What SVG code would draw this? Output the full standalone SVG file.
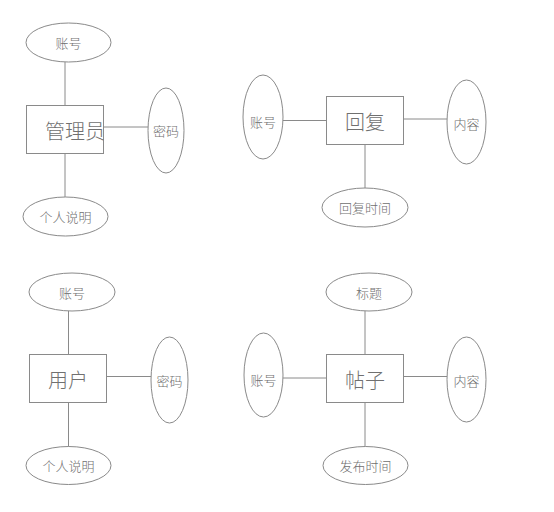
<svg xmlns="http://www.w3.org/2000/svg" width="554" height="512" viewBox="0 0 554 512">
<style>
.s{fill:#ffffff;stroke:#8a8a8a;stroke-width:1}
.c line{stroke:#8a8a8a;stroke-width:1}
.t{font-family:"Noto Sans CJK SC","Noto Sans",sans-serif;font-weight:300;fill:#707070;text-anchor:middle;dominant-baseline:central}
.a{font-size:13px}
.e{font-size:20px}
</style>
<rect width="554" height="512" fill="#ffffff"/>
<g class="c" id="connectors">
<line x1="65" y1="62" x2="65" y2="105"/>
<line x1="104" y1="127" x2="148" y2="127"/>
<line x1="65" y1="153" x2="65" y2="197"/>
<line x1="283" y1="120.5" x2="326" y2="120.5"/>
<line x1="404" y1="119" x2="447" y2="119"/>
<line x1="365" y1="144" x2="365" y2="188"/>
<line x1="68.5" y1="311" x2="68.5" y2="354"/>
<line x1="107" y1="376.5" x2="151" y2="376.5"/>
<line x1="68.5" y1="403" x2="68.5" y2="447"/>
<line x1="365" y1="311" x2="365" y2="354"/>
<line x1="283" y1="378" x2="326" y2="378"/>
<line x1="404" y1="376.5" x2="447" y2="376.5"/>
<line x1="365" y1="403" x2="365" y2="447"/>
</g>
<g id="admin">
<rect class="s" x="26.5" y="105.5" width="77" height="48"/>
<text class="t e" x="75" y="130">管理员</text>
</g>
<g id="admin-account">
<ellipse class="s" cx="68.5" cy="42.5" rx="42.5" ry="19.5"/>
<text class="t a" x="68.5" y="42.5">账号</text>
</g>
<g id="admin-password">
<ellipse class="s" cx="166" cy="130.5" rx="18" ry="42.5"/>
<text class="t a" x="166" y="130.5">密码</text>
</g>
<g id="admin-desc">
<ellipse class="s" cx="65.5" cy="216.5" rx="42.5" ry="19.5"/>
<text class="t a" x="65.5" y="216.5">个人说明</text>
</g>
<g id="reply">
<rect class="s" x="326.5" y="96.5" width="77" height="48"/>
<text class="t e" x="365" y="121">回复</text>
</g>
<g id="reply-account">
<ellipse class="s" cx="263" cy="117" rx="20" ry="42"/>
<text class="t a" x="263" y="121">账号</text>
</g>
<g id="reply-content">
<ellipse class="s" cx="466.5" cy="122" rx="19.5" ry="42"/>
<text class="t a" x="466.5" y="123">内容</text>
</g>
<g id="reply-time">
<ellipse class="s" cx="365" cy="207.5" rx="43" ry="19.5"/>
<text class="t a" x="365" y="207.5">回复时间</text>
</g>
<g id="user">
<rect class="s" x="29.5" y="354.5" width="77" height="48"/>
<text class="t e" x="68" y="379">用户</text>
</g>
<g id="user-account">
<ellipse class="s" cx="72" cy="292" rx="43" ry="19"/>
<text class="t a" x="72" y="292">账号</text>
</g>
<g id="user-password">
<ellipse class="s" cx="169.5" cy="380" rx="18.5" ry="43"/>
<text class="t a" x="169.5" y="380">密码</text>
</g>
<g id="user-desc">
<ellipse class="s" cx="68.5" cy="465.5" rx="42.5" ry="19"/>
<text class="t a" x="68.5" y="465.5">个人说明</text>
</g>
<g id="post">
<rect class="s" x="326.5" y="354.5" width="77" height="48"/>
<text class="t e" x="365" y="379">帖子</text>
</g>
<g id="post-title">
<ellipse class="s" cx="369" cy="292" rx="43" ry="19"/>
<text class="t a" x="369" y="292">标题</text>
</g>
<g id="post-account">
<ellipse class="s" cx="263.5" cy="375" rx="19.5" ry="42"/>
<text class="t a" x="263.5" y="379">账号</text>
</g>
<g id="post-content">
<ellipse class="s" cx="466.5" cy="379.5" rx="19.5" ry="42.5"/>
<text class="t a" x="466.5" y="380">内容</text>
</g>
<g id="post-time">
<ellipse class="s" cx="365.5" cy="465.5" rx="42.5" ry="19"/>
<text class="t a" x="365.5" y="465.5">发布时间</text>
</g>
</svg>
